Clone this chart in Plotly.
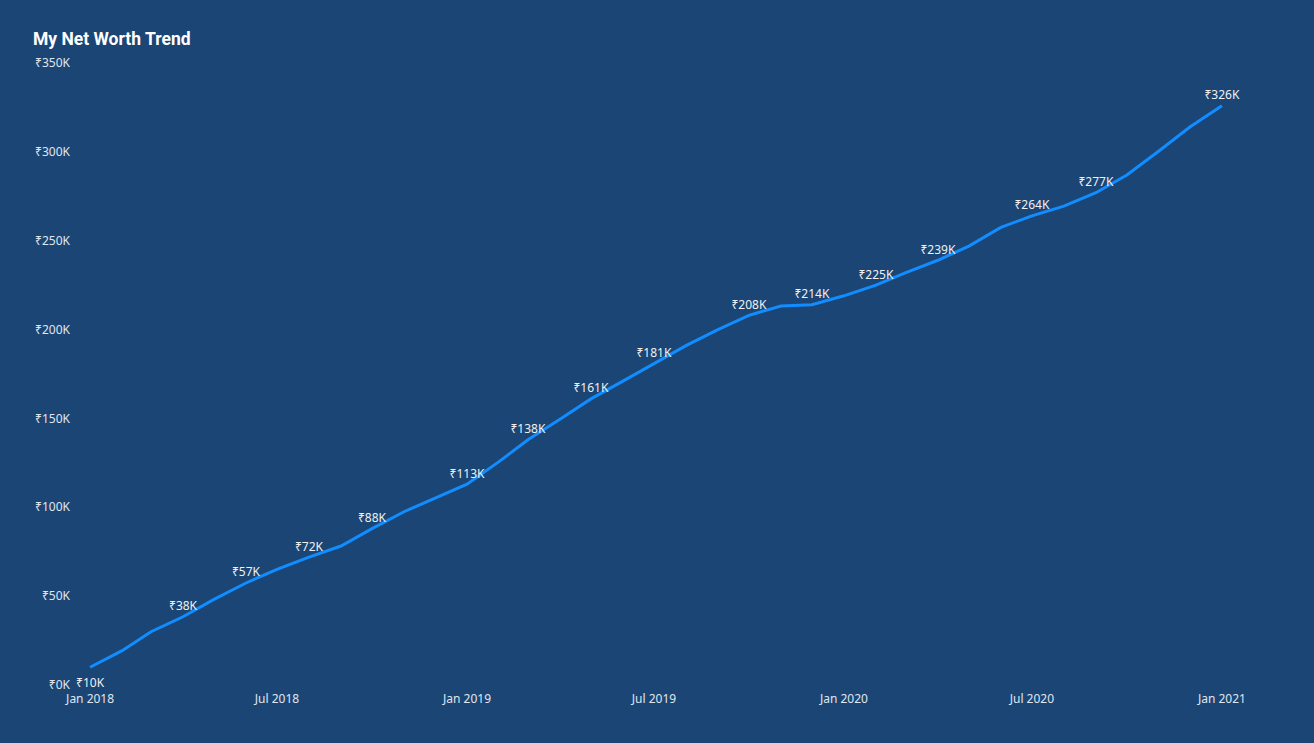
import plotly.graph_objects as go

months = ["2018-01-01", "2018-02-01", "2018-03-01", "2018-04-01", "2018-05-01", "2018-06-01",
          "2018-07-01", "2018-08-01", "2018-09-01", "2018-10-01", "2018-11-01", "2018-12-01",
          "2019-01-01", "2019-02-01", "2019-03-01", "2019-04-01", "2019-05-01", "2019-06-01",
          "2019-07-01", "2019-08-01", "2019-09-01", "2019-10-01", "2019-11-01", "2019-12-01",
          "2020-01-01", "2020-02-01", "2020-03-01", "2020-04-01", "2020-05-01", "2020-06-01",
          "2020-07-01", "2020-08-01", "2020-09-01", "2020-10-01", "2020-11-01", "2020-12-01",
          "2021-01-01"]
net_worth = [10000, 19300, 30000, 38400, 48200, 57400, 65100, 72000, 78200, 88000, 97500, 105000,
             113000, 125700, 138000, 149500, 161000, 171000, 181000, 191000, 200000, 208000, 213300, 214000,
             219000, 225000, 232000, 239000, 247000, 257500, 264000, 269500, 277000, 287000, 300500, 314000,
             326000]
# months that carry a data label
labeled = ["2018-01-01", "2018-04-01", "2018-06-01", "2018-08-01", "2018-10-01", "2019-01-01",
           "2019-03-01", "2019-05-01", "2019-07-01", "2019-10-01", "2019-12-01", "2020-02-01",
           "2020-04-01", "2020-07-01", "2020-09-01", "2021-01-01"]

y_ticks = [0, 50000, 100000, 150000, 200000, 250000, 300000, 350000]
y_tick_labels = ["₹0K", "₹50K", "₹100K", "₹150K", "₹200K", "₹250K", "₹300K", "₹350K"]
x_ticks = ["2018-01-01", "2018-07-01", "2019-01-01", "2019-07-01", "2020-01-01", "2020-07-01", "2021-01-01"]
x_tick_labels = ["Jan 2018", "Jul 2018", "Jan 2019", "Jul 2019", "Jan 2020", "Jul 2020", "Jan 2021"]

lab_x = [m for m in months if m in labeled]
lab_y = [v for m, v in zip(months, net_worth) if m in labeled]
lab_text = [f"₹{round(v/1000):d}K" for v in lab_y]
lab_pos = ["bottom center" if m == months[0] else "top center" for m in lab_x]
lab_size = [16 if m == months[0] else 4 for m in lab_x]

BG = "#1A4575"
LABEL_FONT = dict(family="Noto Sans, DejaVu Sans", size=12, color="#F0F0F0")
fig = go.Figure()
fig.add_trace(go.Scatter(
    x=months, y=net_worth, mode="lines",
    line=dict(color="#118DFF", width=3),
    hoverinfo="x+y", showlegend=False,
))
fig.add_trace(go.Scatter(
    x=lab_x, y=lab_y, mode="markers+text",
    marker=dict(size=lab_size, color="rgba(0,0,0,0)", opacity=0, line=dict(width=0, color="rgba(0,0,0,0)")),
    text=lab_text, textposition=lab_pos, textfont=LABEL_FONT,
    cliponaxis=False, hoverinfo="skip", showlegend=False,
))

fig.update_layout(
    width=1314, height=743,
    paper_bgcolor=BG, plot_bgcolor=BG,
    margin=dict(l=87, r=89, t=63, b=58),
    title=dict(text="<b>My Net Worth Trend</b>", x=33/1314, xanchor="left", y=1 - 39/743, yanchor="middle",
               font=dict(family="Roboto, DejaVu Sans", size=17.5, color="#FFFFFF")),
    xaxis=dict(range=["2017-12-29", "2021-01-04"], tickvals=x_ticks, ticktext=x_tick_labels,
               showgrid=False, zeroline=False, showline=False, ticks="", ticklabelstandoff=5,
               tickfont=dict(family="Noto Sans, DejaVu Sans", size=12, color="#E0E6EE")),
    yaxis=dict(range=[0, 350000], tickvals=y_ticks, ticktext=y_tick_labels,
               showgrid=False, zeroline=False, showline=False, ticks="", ticklabelstandoff=16,
               tickfont=dict(family="Noto Sans, DejaVu Sans", size=12, color="#E0E6EE")),
)

fig.write_html("out.html",
               config={"displayModeBar": False},
               post_script="document.body.style.margin='0';document.body.style.padding='0';"
                           "document.body.style.overflow='hidden';"
                           "document.body.style.background='" + BG + "';")
